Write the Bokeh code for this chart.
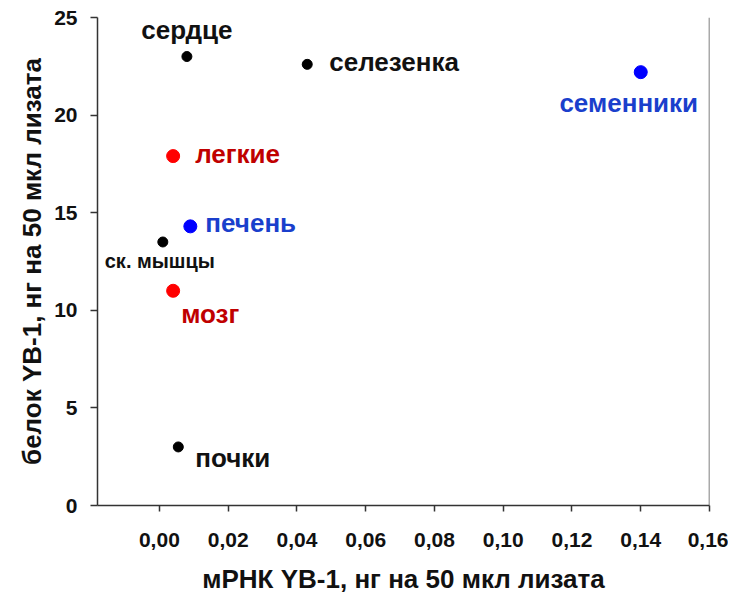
from bokeh.plotting import figure
from bokeh.models import Range1d, CustomJSTickFormatter, FixedTicker, ColumnDataSource, Span
from bokeh.core.properties import value
from bokeh.embed import file_html
from bokeh.resources import INLINE

# ---- data ----
tissues = ["сердце", "селезенка", "семенники", "легкие", "печень", "ск. мышцы", "мозг", "почки"]
mrna = [0.008, 0.043, 0.140, 0.004, 0.009, 0.001, 0.004, 0.0055]
protein = [23.0, 22.6, 22.2, 17.9, 14.3, 13.5, 11.0, 3.0]
group = ["k", "k", "b", "r", "b", "k", "r", "k"]
x_ticks = [0.00, 0.02, 0.04, 0.06, 0.08, 0.10, 0.12, 0.14, 0.16]
y_ticks = [0, 5, 10, 15, 20, 25]

# ---- styles ----
marker_col = {"k": "#000000", "r": "#ff0000", "b": "#0000ff"}
text_col = {"k": "#111111", "r": "#c00000", "b": "#1a3fcc"}
marker_size = {"k": 10, "r": 13, "b": 13}
# label offsets in pixels (dx, dy) and alignment
lab_dx = [0, 22, -12, 22, 15, -3, 8, 17]
lab_dy = [-27, -2, 31, -2, -3, 19, 23, 11]
lab_align = ["center", "left", "center", "left", "left", "center", "left", "left"]
lab_size = ["26px", "26px", "26px", "26px", "26px", "20px", "26px", "26px"]

src = ColumnDataSource(dict(
    x=mrna, y=protein, name=tissues,
    mc=[marker_col[g] for g in group],
    tc=[text_col[g] for g in group],
    ms=[marker_size[g] for g in group],
    dx=lab_dx, dy=lab_dy, al=lab_align, fs=lab_size,
))

p = figure(width=728, height=596, output_backend="svg", toolbar_location=None,
           x_range=Range1d(-0.018, 0.16), y_range=Range1d(0, 25),
           min_border_left=97, min_border_right=19, min_border_top=17, min_border_bottom=80)
p.outline_line_color = None
p.xgrid.visible = False
p.ygrid.visible = False
p.background_fill_color = "white"
p.border_fill_color = "white"

p.scatter("x", "y", source=src, size="ms", fill_color="mc", line_color="mc")
p.text("x", "y", text="name", source=src, x_offset="dx", y_offset="dy",
       text_align="al", text_baseline="middle", text_color="tc",
       text_font=value("Liberation Sans"), text_font_style="bold", text_font_size="fs")

# right spine
p.add_layout(Span(location=0.16, dimension="height", line_color="#555555", line_width=1.5))

for ax in (p.xaxis[0], p.yaxis[0]):
    ax.axis_line_color = "#333333"
    ax.axis_line_width = 1.5
    ax.major_tick_line_color = "#333333"
    ax.major_tick_line_width = 1.5
    ax.major_tick_in = 0
    ax.minor_tick_line_color = None
    ax.major_label_text_font = "Liberation Sans"
    ax.major_label_text_font_style = "bold"
    ax.major_label_text_color = "#111111"
    ax.axis_label_text_font = "Liberation Sans"
    ax.axis_label_text_font_style = "bold"
    ax.axis_label_text_color = "#111111"
    ax.axis_label_text_font_size = "26px"

p.xaxis.ticker = FixedTicker(ticks=x_ticks)
p.xaxis.formatter = CustomJSTickFormatter(code="return tick.toFixed(2).replace('.', ',');")
p.xaxis.major_tick_out = 6
p.xaxis.major_label_standoff = 21
p.xaxis.major_label_text_font_size = "21px"
p.xaxis.axis_label = "мРНК YB-1, нг на 50 мкл лизата"
p.xaxis.axis_label_standoff = 14

p.yaxis.ticker = FixedTicker(ticks=y_ticks)
p.yaxis.major_tick_out = 7
p.yaxis.major_label_standoff = 13
p.yaxis.major_label_text_font_size = "21px"
p.yaxis.axis_label = "белок YB-1, нг на 50 мкл лизата"
p.yaxis.axis_label_standoff = 4

open("out.html", "w").write(file_html(p, INLINE))
